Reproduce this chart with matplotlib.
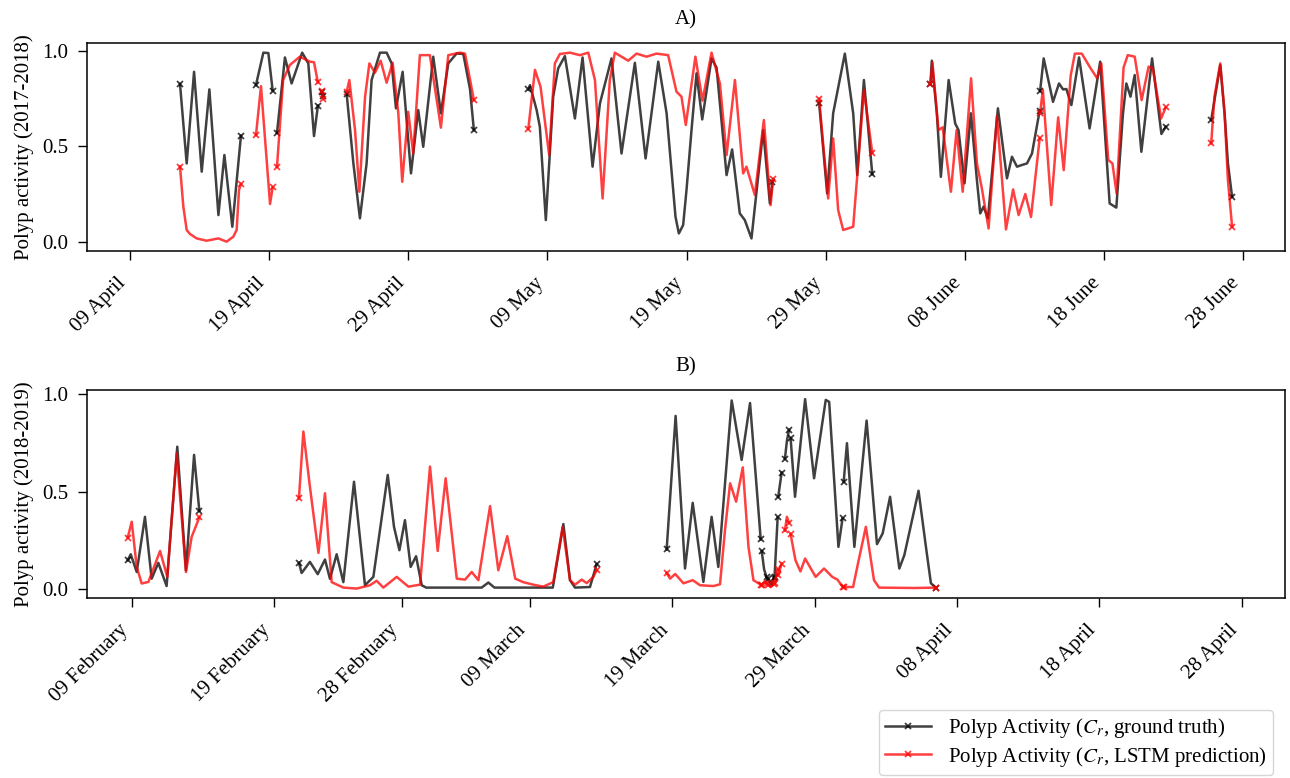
import matplotlib
matplotlib.use("Agg")
import matplotlib.pyplot as plt
import matplotlib.dates as mdates
import pandas as pd

# ---- panel A (2017-2018 season), days counted from 09 April 2018 ----
a_start = "2018-04-09"
a_true_days = [
    [3.59, 4.07, 4.6, 5.15, 5.7, 6.35, 6.78, 7.35, 7.97],
    [9.05, 9.58, 9.94, 10.25],
    [10.56, 11.13, 11.61, 12.37, 12.81, 13.22, 13.5],
    [13.78, 13.86],
    [15.57, 16.05, 16.52, 17.0, 17.36, 17.96, 18.44, 18.8, 19.11, 19.59, 20.19, 20.71,
     21.07, 21.79, 22.34, 22.87, 23.47, 23.95, 24.43, 24.71],
    [28.62, 28.74, 29.22, 29.45, 29.88, 30.41, 30.77, 31.25, 31.97, 32.52, 33.24, 33.77,
     34.6, 35.32, 36.28, 37.05, 37.96, 38.56, 38.91, 39.2, 39.44, 39.75, 39.99, 40.35,
     40.71, 41.12, 41.79, 42.15, 42.87, 43.27, 43.82, 44.18, 44.66, 45.5, 45.98, 46.17],
    [49.52, 50.1, 50.53, 51.37, 51.97, 52.26, 52.74, 53.34],
    [57.52, 57.62, 57.98, 58.27, 58.83, 59.3, 59.54, 59.97, 60.43, 60.86, 61.1, 61.34,
     61.65, 62.37, 63.02, 63.38, 63.74, 64.1, 64.46, 64.82, 65.37],
    [65.4, 65.66, 66.33, 66.76, 67.05, 67.29, 67.65, 68.2, 68.96, 69.72, 70.4, 70.88,
     71.36, 71.6, 71.9, 72.2, 72.68, 73.45, 74.12, 74.43],
    [77.7, 78.35, 78.66, 78.9, 79.2],
]
a_true_vals = [
    [0.826, 0.411, 0.890, 0.368, 0.798, 0.141, 0.455, 0.080, 0.556],
    [0.821, 0.99, 0.988, 0.791],
    [0.571, 0.965, 0.829, 0.99, 0.934, 0.554, 0.713],
    [0.786, 0.765],
    [0.772, 0.411, 0.124, 0.411, 0.847, 0.99, 0.99, 0.934, 0.699, 0.89, 0.359, 0.69,
     0.498, 0.969, 0.673, 0.934, 0.986, 0.983, 0.8, 0.585],
    [0.798, 0.82, 0.69, 0.603, 0.115, 0.76, 0.908, 0.972, 0.646, 0.965, 0.394, 0.725,
     0.96, 0.463, 0.937, 0.437, 0.943, 0.673, 0.376, 0.132, 0.045, 0.089, 0.272, 0.585,
     0.882, 0.641, 0.96, 0.912, 0.35, 0.484, 0.15, 0.115, 0.019, 0.585, 0.202, 0.315],
    [0.728, 0.254, 0.673, 0.985, 0.673, 0.35, 0.847, 0.355],
    [0.824, 0.948, 0.673, 0.341, 0.847, 0.62, 0.585, 0.307, 0.673, 0.324, 0.15, 0.185,
     0.124, 0.699, 0.333, 0.446, 0.394, 0.403, 0.411, 0.463, 0.687],
    [0.789, 0.96, 0.733, 0.829, 0.798, 0.8, 0.716, 0.965, 0.594, 0.943, 0.202, 0.18,
     0.673, 0.829, 0.76, 0.873, 0.472, 0.96, 0.565, 0.603],
    [0.638, 0.925, 0.673, 0.411, 0.237],
]
a_pred_days = [
    [3.59, 3.83, 4.07, 4.31, 4.79, 5.5, 6.35, 6.94, 7.42, 7.66, 7.83, 7.97],
    [9.05, 9.41, 10.06, 10.25],
    [10.56, 11.0, 11.48, 12.2, 12.92, 13.22, 13.5],
    [13.78, 13.9],
    [15.57, 15.76, 16.17, 16.48, 16.89, 17.2, 17.6, 18.01, 18.44, 18.87, 19.28, 19.56,
     19.99, 20.35, 20.83, 21.55, 22.34, 22.87, 23.71, 24.07, 24.43, 24.71],
    [28.62, 29.1, 29.5, 30.12, 30.53, 30.89, 31.61, 32.33, 32.93, 33.41, 33.96, 34.48,
     34.84, 35.8, 36.4, 37.12, 37.83, 38.67, 39.27, 39.63, 39.94, 40.63, 41.14, 41.79,
     42.39, 42.87, 43.47, 44.06, 44.3, 44.9, 45.55, 46.03, 46.22],
    [49.52, 50.17, 50.53, 50.89, 51.25, 51.97, 52.33, 52.74, 53.34],
    [57.52, 57.66, 58.1, 58.4, 58.99, 59.4, 59.84, 60.44, 60.86, 61.2, 61.7, 62.3,
     62.95, 63.46, 63.86, 64.34, 64.75, 65.37],
    [65.4, 65.6, 66.2, 66.7, 67.1, 67.6, 67.9, 68.4, 69.0, 69.5, 69.8, 70.3, 70.6,
     70.9, 71.4, 71.7, 72.2, 72.7, 73.2, 73.5, 74.1, 74.43],
    [77.7, 77.93, 78.35, 78.66, 78.9, 79.2],
]
a_pred_vals = [
    [0.394, 0.185, 0.063, 0.042, 0.019, 0.007, 0.019, 0.002, 0.028, 0.063, 0.272, 0.303],
    [0.559, 0.815, 0.199, 0.286],
    [0.394, 0.847, 0.925, 0.969, 0.943, 0.94, 0.835],
    [0.79, 0.75],
    [0.786, 0.847, 0.585, 0.263, 0.76, 0.934, 0.885, 0.948, 0.833, 0.937, 0.673, 0.315,
     0.681, 0.463, 0.977, 0.977, 0.598, 0.977, 0.99, 0.985, 0.85, 0.742],
    [0.591, 0.9, 0.812, 0.455, 0.934, 0.983, 0.99, 0.977, 0.99, 0.847, 0.228, 0.847,
     0.99, 0.948, 0.985, 0.969, 0.985, 0.977, 0.786, 0.76, 0.612, 0.969, 0.739, 0.99,
     0.829, 0.455, 0.847, 0.359, 0.394, 0.246, 0.638, 0.193, 0.329],
    [0.748, 0.228, 0.542, 0.167, 0.063, 0.08, 0.411, 0.795, 0.467],
    [0.824, 0.94, 0.585, 0.6, 0.263, 0.585, 0.263, 0.856, 0.411, 0.287, 0.071, 0.659,
     0.066, 0.275, 0.141, 0.251, 0.131, 0.542],
    [0.673, 0.795, 0.193, 0.652, 0.376, 0.87, 0.985, 0.985, 0.912, 0.856, 0.934, 0.429,
     0.411, 0.254, 0.912, 0.977, 0.969, 0.742, 0.917, 0.908, 0.646, 0.704],
    [0.516, 0.76, 0.934, 0.673, 0.324, 0.08],
]

# ---- panel B (2018-2019 season), days counted from 09 February 2019 ----
b_start = "2019-02-09"
b_true_days = [
    [-0.27, -0.06, 0.36, 0.94, 1.41, 1.88, 2.46, 3.21, 3.82, 4.39, 4.76],
    [11.76, 11.95, 12.53, 13.08, 13.59, 13.94, 14.41, 14.88, 15.63, 16.4, 16.99, 18.0,
     18.44, 18.82, 19.21, 19.61, 19.99, 20.39, 20.7, 24.6, 25.07, 25.5, 29.6, 30.34,
     30.81, 31.16, 32.21, 32.68],
    [37.6, 38.23, 38.89, 39.43, 40.18, 40.76, 41.23, 42.17, 42.87, 43.46, 44.21],
    [44.28, 44.45, 44.63],
    [44.7, 44.95, 45.15],
    [45.18, 45.28, 45.4],
    [45.44, 45.68],
    [45.91, 46.05, 46.2],
    [46.31, 46.62, 47.33, 47.96, 48.78, 49.02, 49.67, 49.96],
    [50.04, 50.27, 50.79, 51.65, 52.38, 52.78, 53.3, 53.95, 54.3, 55.3, 55.82, 56.17, 56.52],
]
b_true_vals = [
    [0.148, 0.178, 0.087, 0.37, 0.053, 0.134, 0.015, 0.73, 0.096, 0.688, 0.401],
    [0.134, 0.082, 0.139, 0.076, 0.151, 0.052, 0.178, 0.035, 0.55, 0.019, 0.062, 0.585,
     0.319, 0.199, 0.353, 0.113, 0.168, 0.019, 0.007, 0.007, 0.033, 0.007, 0.007, 0.333,
     0.045, 0.007, 0.01, 0.127],
    [0.203, 0.888, 0.105, 0.442, 0.036, 0.37, 0.113, 0.967, 0.662, 0.954, 0.254],
    [0.194, 0.1, 0.059],
    [0.05, 0.02, 0.055],
    [0.06, 0.2, 0.367],
    [0.473, 0.597],
    [0.667, 0.76, 0.816],
    [0.774, 0.473, 0.974, 0.568, 0.97, 0.96, 0.216, 0.362],
    [0.55, 0.748, 0.216, 0.864, 0.23, 0.285, 0.473, 0.105, 0.173, 0.504, 0.216, 0.029, 0.007],
]
b_pred_days = [
    [-0.27, 0.01, 0.36, 0.71, 1.18, 2.0, 2.51, 3.17, 3.82, 4.22, 4.76],
    [11.76, 12.07, 12.53, 13.13, 13.59, 14.06, 14.88, 15.82, 16.75, 17.22, 17.69, 18.63,
     19.45, 20.27, 20.97, 21.51, 22.07, 22.85, 23.43, 23.9, 24.37, 25.19, 25.77, 26.4,
     26.96, 27.52, 28.23, 28.93, 29.63, 30.29, 30.81, 31.16, 31.63, 31.98, 32.45, 32.68],
    [37.6, 37.84, 38.2, 38.78, 39.43, 39.95, 40.89, 41.35, 41.7, 42.06, 42.48, 42.95,
     43.35, 43.7, 44.21],
    [44.28, 44.45, 44.63],
    [44.7, 44.95, 45.15],
    [45.18, 45.28, 45.4],
    [45.44, 45.68],
    [45.91, 46.05, 46.2],
    [46.31, 46.65, 47.0, 47.33, 48.07, 48.66, 49.24, 49.6, 49.96],
    [50.04, 50.7, 51.1, 51.6, 52.17, 52.53, 55.0, 56.52],
]
b_pred_vals = [
    [0.264, 0.345, 0.113, 0.028, 0.036, 0.195, 0.062, 0.696, 0.087, 0.267, 0.367],
    [0.465, 0.808, 0.525, 0.185, 0.491, 0.035, 0.007, 0.002, 0.019, 0.042, 0.007, 0.062,
     0.012, 0.022, 0.628, 0.195, 0.568, 0.053, 0.048, 0.087, 0.045, 0.425, 0.096, 0.271,
     0.053, 0.035, 0.022, 0.012, 0.035, 0.319, 0.045, 0.022, 0.048, 0.03, 0.062, 0.096],
    [0.082, 0.053, 0.077, 0.029, 0.045, 0.019, 0.015, 0.024, 0.302, 0.542, 0.448, 0.624,
     0.216, 0.045, 0.022],
    [0.02, 0.035, 0.03],
    [0.02, 0.012, 0.025],
    [0.03, 0.06, 0.1],
    [0.07, 0.13],
    [0.30, 0.37, 0.34],
    [0.281, 0.148, 0.09, 0.156, 0.062, 0.105, 0.062, 0.048, 0.012],
    [0.01, 0.01, 0.15, 0.319, 0.045, 0.007, 0.005, 0.007],
]

a_ticks = ["2018-04-09", "2018-04-19", "2018-04-29", "2018-05-09", "2018-05-19",
           "2018-05-29", "2018-06-08", "2018-06-18", "2018-06-28"]
b_ticks = ["2019-02-09", "2019-02-19", "2019-02-28", "2019-03-09", "2019-03-19",
           "2019-03-29", "2019-04-08", "2019-04-18", "2019-04-28"]

plt.rcParams['font.family'] = ['Liberation Serif', 'DejaVu Serif']
plt.rcParams['mathtext.fontset'] = 'stix'
plt.rcParams['font.size'] = 15


def draw_segments(ax, start, days, vals, color, label):
    t0 = mdates.date2num(pd.Timestamp(start))
    first = None
    for d, v in zip(days, vals):
        x = [t0 + di for di in d]
        ln, = ax.plot(x, v, color=color, alpha=0.75, lw=1.8, marker='x', ms=4,
                      mew=1.3, markevery=[0, len(v) - 1], solid_joinstyle='round')
        if first is None:
            first = ln
            ln.set_label(label)
    return first


fig = plt.figure(figsize=(12.9, 7.78), dpi=100)
ax_a = fig.add_axes([0.0677, 0.6778, 0.9284, 0.2673])
ax_b = fig.add_axes([0.0677, 0.2317, 0.9284, 0.2673])

lab_true = r'Polyp Activity ($C_r$, ground truth)'
lab_pred = r'Polyp Activity ($C_r$, LSTM prediction)'

h1 = draw_segments(ax_a, a_start, a_true_days, a_true_vals, 'black', lab_true)
h2 = draw_segments(ax_a, a_start, a_pred_days, a_pred_vals, 'red', lab_pred)
draw_segments(ax_b, b_start, b_true_days, b_true_vals, 'black', lab_true)
draw_segments(ax_b, b_start, b_pred_days, b_pred_vals, 'red', lab_pred)

for ax, start, ticks, lims, ylims, ylab, ttl in [
        (ax_a, a_start, a_ticks, (-3.07, 83.0), (-0.045, 1.042), 'Polyp activity (2017-2018)', 'A)'),
        (ax_b, b_start, b_ticks, (-3.11, 81.05), (-0.045, 1.022), 'Polyp activity (2018-2019)', 'B)')]:
    t0 = mdates.date2num(pd.Timestamp(start))
    ax.set_xlim(t0 + lims[0], t0 + lims[1])
    ax.set_ylim(*ylims)
    ax.set_xticks([mdates.date2num(pd.Timestamp(t)) for t in ticks])
    ax.xaxis.set_major_formatter(mdates.DateFormatter('%d %B'))
    ax.set_yticks([0.0, 0.5, 1.0])
    ax.tick_params(axis='both', length=6.5, width=1)
    ax.tick_params(axis='x', pad=10)
    ax.tick_params(axis='y', pad=7)
    for lbl in ax.get_xticklabels():
        lbl.set_rotation(45)
        lbl.set_ha('right')
    for sp in ax.spines.values():
        sp.set_linewidth(1.1)
    ax.set_ylabel(ylab, labelpad=6)
    ax.set_title(ttl, fontsize=15, pad=13)

fig.legend(handles=[h1, h2], loc='lower right', bbox_to_anchor=(0.9868, 0.004),
           borderaxespad=0, fontsize=15, labelspacing=0.2, handlelength=2.2,
           borderpad=0.3)

fig.savefig('out.png', dpi=100)
